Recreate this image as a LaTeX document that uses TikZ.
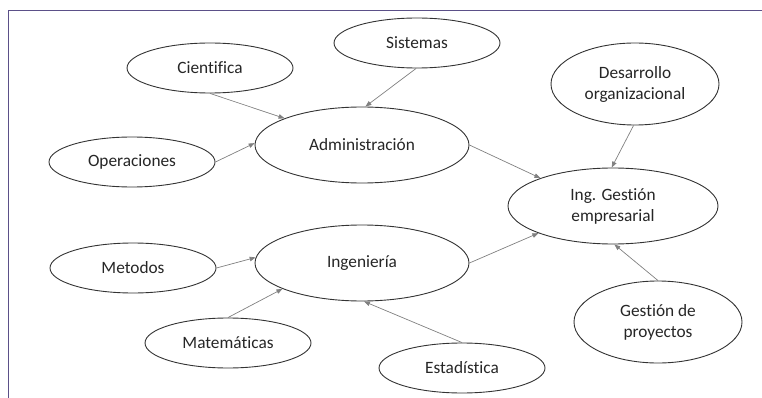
\documentclass[tikz,border=0pt]{standalone}
\usepackage{fontspec}
\setmainfont[Ligatures=CommonOff]{Carlito}
\usetikzlibrary{shapes.geometric,arrows.meta}
\definecolor{framec}{HTML}{5B5088}
\definecolor{txtc}{HTML}{262626}
\definecolor{arrc}{HTML}{808080}
\tikzset{
  bub/.style={ellipse, draw=black!80, line width=0.9pt, fill=white, inner sep=0pt,
    text=txtc, align=center, font=\fontsize{17.3}{21}\selectfont},
  small/.style={bub, minimum width=166pt, minimum height=50pt},
  big/.style={bub, minimum width=214pt, minimum height=76pt},
  mid/.style={bub, minimum width=168pt, minimum height=82pt},
  conn/.style={draw=arrc, line width=0.7pt, -{Triangle[length=6pt,width=4.5pt]}, shorten >=0pt}
}
\begin{document}
\begin{tikzpicture}[x=1pt,y=-1pt]
\useasboundingbox (0,0) rectangle (762,398);
\draw[framec, line width=1pt] (8,398) -- (8,11) -- (762,11);
\node[small] (cien) at (210,68) {Cientifica};
\node[small] (sist) at (417,43) {Sistemas};
\node[small] (oper) at (132,162) {Operaciones};
\node[big] (adm) at (362,145) {Administración};
\node[mid] (desa) at (635,84) {Desarrollo\\organizacional};
\node[big, minimum width=210pt] (ing) at (613,206) {Ing. Gestión\\empresarial};
\node[small] (meto) at (133,268) {Metodos};
\node[big] (inge) at (362,263) {Ingeniería};
\node[small] (mate) at (228,343) {Matemáticas};
\node[small] (esta) at (462,368) {Estadística};
\node[mid] (gest) at (658,322) {Gestión de\\proyectos};
\draw[conn] (cien.south) -- (adm.161);
\draw[conn] (sist.268) -- (adm.85);
\draw[conn] (oper.east) -- (adm.179);
\draw[conn] (adm.east) -- (ing.159);
\draw[conn] (desa.268) -- (ing.92);
\draw[conn] (meto.east) -- (inge.177);
\draw[conn] (mate.north) -- (inge.198);
\draw[conn] (esta.north) -- (inge.273);
\draw[conn] (inge.east) -- (ing.200);
\draw[conn] (gest.north) -- (ing.272);
\end{tikzpicture}
\end{document}
